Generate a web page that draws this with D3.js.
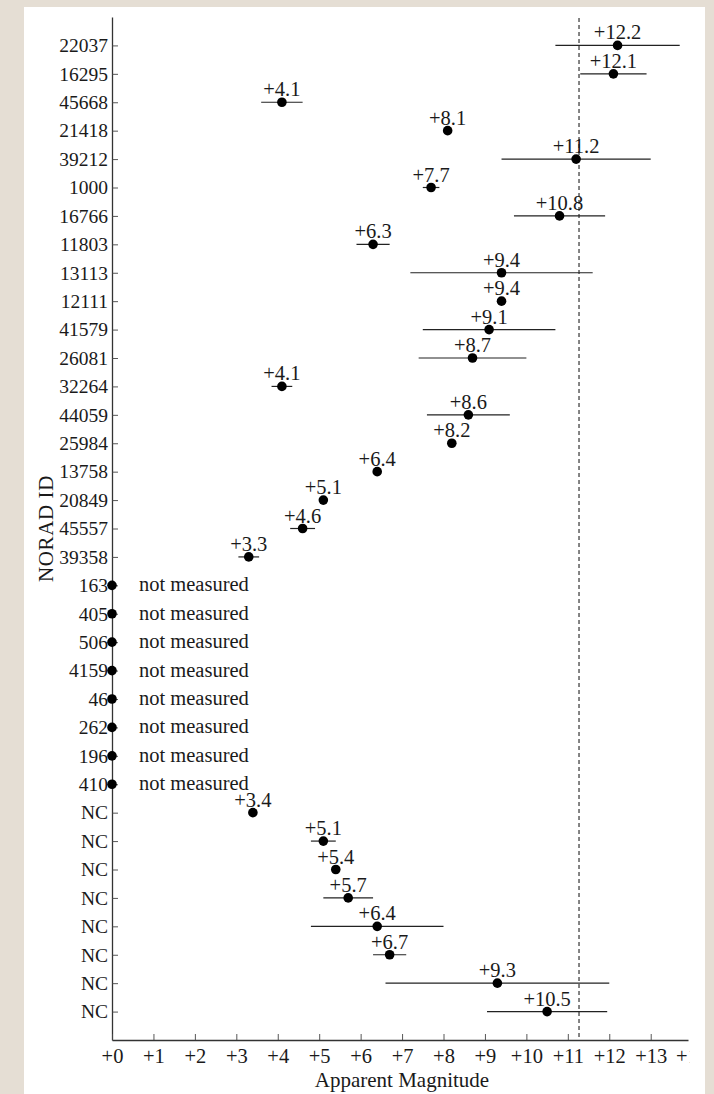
<!DOCTYPE html>
<html>
<head>
<meta charset="utf-8">
<script src="https://cdn.jsdelivr.net/npm/d3@7"></script>
<style>
  body { margin: 0; background: #e5ded4; }
  svg { display: block; }
  text { font-family: "Liberation Serif", "DejaVu Serif", serif; fill: #1a1a1a; }
</style>
</head>
<body>
<div class="panel"></div>
<script>

const noradIds = ["22037", "16295", "45668", "21418", "39212", "1000", "16766", "11803",
    "13113", "12111", "41579", "26081", "32264", "44059", "25984", "13758", "20849",
    "45557", "39358", "163", "405", "506", "4159", "46", "262", "196", "410",
    "NC", "NC", "NC", "NC", "NC", "NC", "NC", "NC"];

// null = not measured
const magnitudes = [12.2, 12.1, 4.1, 8.1, 11.2, 7.7, 10.8, 6.3,
    9.4, 9.4, 9.1, 8.7, 4.1, 8.6, 8.2, 6.4, 5.1,
    4.6, 3.3, null, null, null, null, null, null, null, null,
    3.4, 5.1, 5.4, 5.7, 6.4, 6.7, 9.3, 10.5];

const errors = [1.5, 0.8, 0.5, 0, 1.8, 0.2, 1.1, 0.4,
    2.2, 0, 1.6, 1.3, 0.25, 1.0, 0, 0, 0,
    0.3, 0.25, null, null, null, null, null, null, null, null,
    0, 0.3, 0, 0.6, 1.6, 0.4, 2.7, 1.45];

const xTicks = [0, 1, 2, 3, 4, 5, 6, 7, 8, 9, 10, 11, 12, 13];
const limitMagnitude = 11.27;

const width = 714, height = 1094;

const rows = noradIds.map((id, i) => ({
    i: i,
    id: id,
    mag: magnitudes[i],
    err: errors[i]
}));

const svg = d3.select(".panel").append("svg")
    .attr("width", width)
    .attr("height", height);

svg.append("rect")
    .attr("x", 24).attr("y", 7)
    .attr("width", 681).attr("height", height - 7)
    .attr("fill", "#fff");

const x = d3.scaleLinear().domain([0, 13.9]).range([112, 688]);
const y = d3.scalePoint().domain(rows.map(d => d.i)).range([17, 1040]).padding(1);

// Axes

const yAxis = svg.append("g")
    .attr("transform", `translate(${x(0)},0)`)
    .call(d3.axisLeft(y)
        .tickSizeInner(-6).tickSizeOuter(0).tickPadding(4)
        .tickFormat(i => noradIds[i]));

const xAxis = svg.append("g")
    .attr("transform", `translate(0,${y.range()[1]})`)
    .call(d3.axisBottom(x)
        .tickValues(xTicks)
        .tickSizeInner(-6).tickSizeOuter(0).tickPadding(8)
        .tickFormat(d => "+" + d));

svg.selectAll(".domain").attr("stroke", "#333").attr("stroke-width", 1.3);
svg.selectAll(".tick line").attr("stroke", "#444").attr("stroke-width", 0.9);
yAxis.selectAll("text").style("font-size", "19.5px");
xAxis.selectAll("text").style("font-size", "20.5px");
svg.selectAll(".tick text").attr("fill", "#1a1a1a").attr("font-family", null);

// cut-off label past the axis end
svg.append("clipPath").attr("id", "edge")
    .append("rect").attr("x", 0).attr("y", 0).attr("width", 689.5).attr("height", height);

svg.append("text")
    .attr("clip-path", "url(#edge)")
    .attr("x", x(14))
    .attr("y", y.range()[1] + 8)
    .attr("dy", "0.71em")
    .attr("text-anchor", "middle")
    .style("font-size", "20.5px")
    .text("+14");

// Limit line

svg.append("line")
    .attr("x1", x(limitMagnitude)).attr("x2", x(limitMagnitude))
    .attr("y1", 18).attr("y2", y.range()[1])
    .attr("stroke", "#333")
    .attr("stroke-width", 1.2)
    .attr("stroke-dasharray", "4,3");

// Error bars

const measured = rows.filter(d => d.mag !== null);

svg.append("g")
    .selectAll("line")
    .data(measured.filter(d => d.err > 0))
    .join("line")
    .attr("x1", d => x(d.mag - d.err))
    .attr("x2", d => x(d.mag + d.err))
    .attr("y1", d => y(d.i))
    .attr("y2", d => y(d.i))
    .attr("stroke", "#222")
    .attr("stroke-width", 1.2);

// Dots

svg.append("g")
    .selectAll("circle")
    .data(rows)
    .join("circle")
    .attr("cx", d => x(d.mag === null ? 0 : d.mag))
    .attr("cy", d => y(d.i))
    .attr("r", 4.8)
    .attr("fill", "#000");

// Labels

svg.append("g")
    .selectAll("text")
    .data(measured)
    .join("text")
    .attr("x", d => x(d.mag))
    .attr("y", d => y(d.i) - 6)
    .attr("text-anchor", "middle")
    .style("font-size", "20.5px")
    .text(d => "+" + d.mag.toFixed(1));

svg.append("g")
    .selectAll("text")
    .data(rows.filter(d => d.mag === null))
    .join("text")
    .attr("x", x(0) + 27)
    .attr("y", d => y(d.i) + 6)
    .style("font-size", "20.5px")
    .text("not measured");

// Titles

svg.append("text")
    .attr("x", (x.range()[0] + x.range()[1]) / 2 + 2)
    .attr("y", 1087)
    .attr("text-anchor", "middle")
    .style("font-size", "21px")
    .text("Apparent Magnitude");

svg.append("text")
    .attr("transform", `translate(53,${(y.range()[0] + y.range()[1]) / 2}) rotate(-90)`)
    .attr("text-anchor", "middle")
    .style("font-size", "21px")
    .style("letter-spacing", "0.6px")
    .text("NORAD ID");

</script>
</body>
</html>
